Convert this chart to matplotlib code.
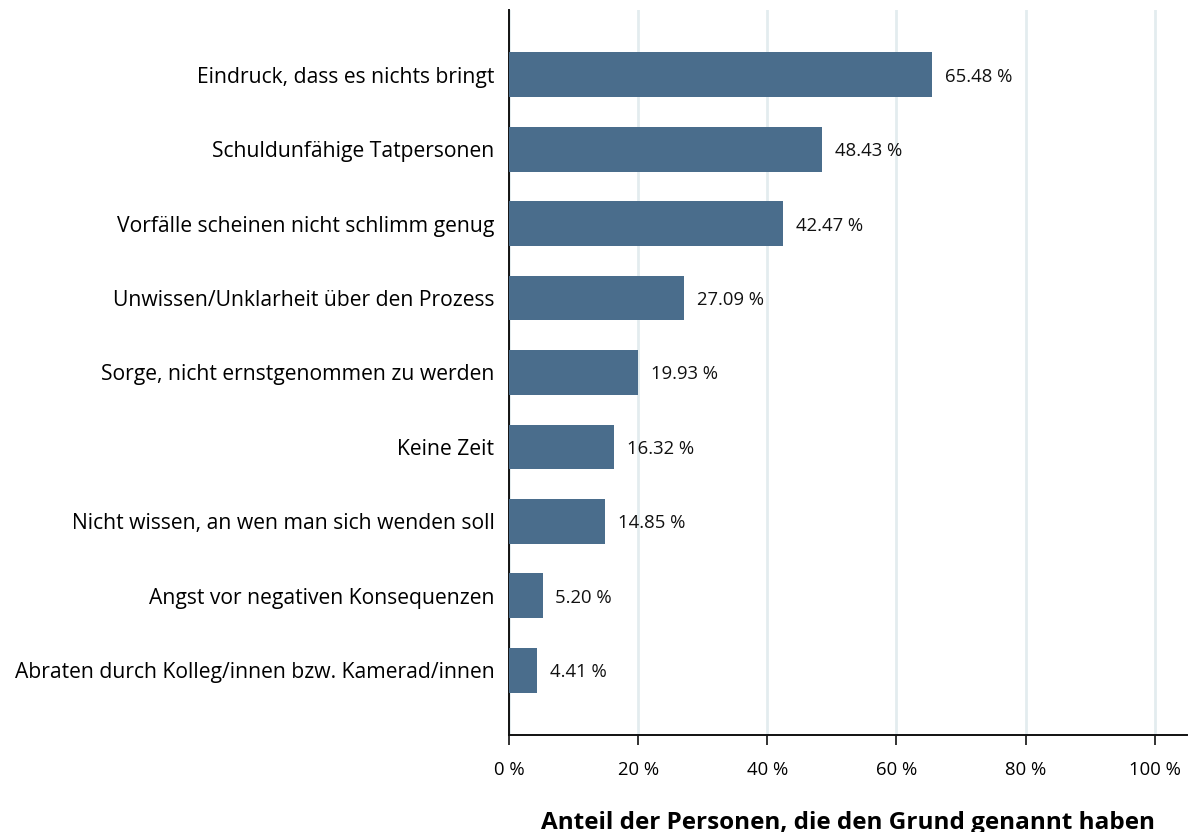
import matplotlib
matplotlib.use("Agg")
import matplotlib.pyplot as plt

categories = [
    "Eindruck, dass es nichts bringt",
    "Schuldunfähige Tatpersonen",
    "Vorfälle scheinen nicht schlimm genug",
    "Unwissen/Unklarheit über den Prozess",
    "Sorge, nicht ernstgenommen zu werden",
    "Keine Zeit",
    "Nicht wissen, an wen man sich wenden soll",
    "Angst vor negativen Konsequenzen",
    "Abraten durch Kolleg/innen bzw. Kamerad/innen",
]
values = [65.48, 48.43, 42.47, 27.09, 19.93, 16.32, 14.85, 5.20, 4.41]
xticks = [0, 20, 40, 60, 80, 100]
xtick_labels = ["0 %", "20 %", "40 %", "60 %", "80 %", "100 %"]
xlabel = "Anteil der Personen, die den Grund genannt haben"

plt.rcParams['font.family'] = ['Open Sans', 'DejaVu Sans']

fig = plt.figure(figsize=(11.9, 8.32), dpi=100)
ax = fig.add_axes([509/1190, 1-735/832, (1187-509)/1190, (735-10)/832])

ys = list(range(len(categories)))
ax.barh(ys, values, height=0.6, color="#4a6d8c", zorder=3)
for y, v in zip(ys, values):
    ax.text(v + 2.0, y, f"{v:.2f} %", va="center_baseline", ha="left", fontsize=13.3, color="#111111")

ax.set_yticks(ys)
ax.set_yticklabels(categories, fontsize=15.2, va="center_baseline")
ax.set_ylim(len(categories) - 1 + 0.87, -0.87)
ax.set_xlim(0, 105)
ax.set_xticks(xticks)
ax.set_xticklabels(xtick_labels, fontsize=13.3)
ax.tick_params(axis="y", length=0, pad=10.5)
ax.tick_params(axis="x", length=7, width=1.2, pad=12, color="#111111")
ax.grid(axis="x", color="#e3ecef", linewidth=2, zorder=0)
for s in ["top", "right"]:
    ax.spines[s].set_visible(False)
for s in ["left", "bottom"]:
    ax.spines[s].set_linewidth(1.4)
    ax.spines[s].set_color("#111111")
ax.set_xlabel(xlabel, fontsize=17.5, fontweight="bold", labelpad=23)

fig.savefig("out.png", dpi=100)
